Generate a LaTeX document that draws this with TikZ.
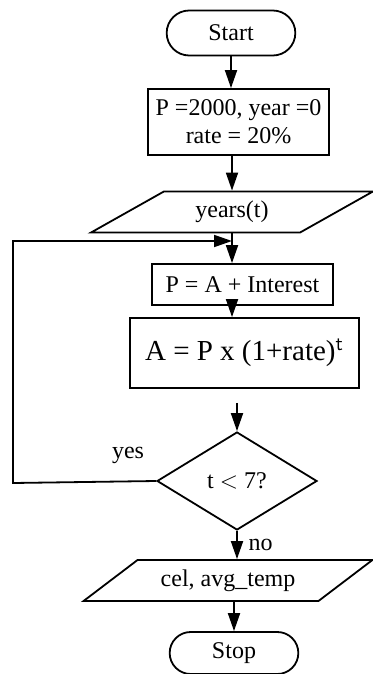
\documentclass[tikz,border=0pt]{standalone}
\usepackage{fontspec}
\setmainfont{Liberation Serif}
\usetikzlibrary{arrows.meta,shapes.geometric,shapes.misc}

\begin{document}
\begin{tikzpicture}[x=0.5pt,y=-0.5pt,>={Triangle[length=9pt,width=6pt]},
  font=\fontsize{12}{14}\selectfont,line width=0.9pt,
  term/.style={draw,rounded rectangle,minimum width=71pt,minimum height=22.5pt},
  proc/.style={draw,rectangle,align=center,inner sep=2pt},
  io/.style={draw,trapezium,trapezium left angle=32,trapezium right angle=148,
    trapezium stretches=true,minimum height=20.5pt,inner sep=1pt},
  dec/.style={draw,diamond,minimum width=80pt,minimum height=49pt,inner sep=0pt},
  fl/.style={->}]
\useasboundingbox (0,0) rectangle (372,674);
\node[term] (start) at (231,33) {Start};
\node[proc,minimum width=90.5pt,minimum height=33pt] (init) at (238.5,122) {P =2000, year =0\\ rate = 20\%};
\node[io,minimum width=141pt] (rd) at (232,212) {years(t)};
\node[proc,minimum width=90.5pt,minimum height=20.5pt] (p) at (242.5,284.5) {P = A + Interest};
\node[proc,minimum width=114.5pt,minimum height=35pt,font=\fontsize{14.5}{17}\selectfont] (a) at (244.5,353) {A = P x (1+rate)\textsuperscript{\sffamily t}};
\node[dec] (dec) at (237,481) {t $<$ 7?};
\node[io,minimum width=144.5pt] (out) at (228,580.5) {cel, avg\_temp};
\node[term,minimum height=21pt] (stop) at (234,653) {Stop};
% main flow
\draw[fl] (start.south) -- (start.south |- init.north);
\draw[fl] (rd.north |- init.south) -- (rd.north);
\draw[fl] (rd.south) -- (rd.south |- p.north);
\draw[fl] (rd.south |- p.south) -- (rd.south |- a.north);
\draw[fl,shorten <=7pt] (dec.north |- a.south) -- (dec.north);
\draw[fl] (dec.south) -- (dec.south |- out.north) node[midway,right=2pt] (no) {no};
\draw[fl] (stop.north |- out.south) -- (stop.north);
% loop back on the left
\coordinate (lc) at (13,483);
\coordinate (mg) at (232,241);
\draw[fl] (dec.west) -- (lc) -- (lc |- mg) -- (mg);
\node (yes) at (128,455) {yes};
\end{tikzpicture}
\end{document}
